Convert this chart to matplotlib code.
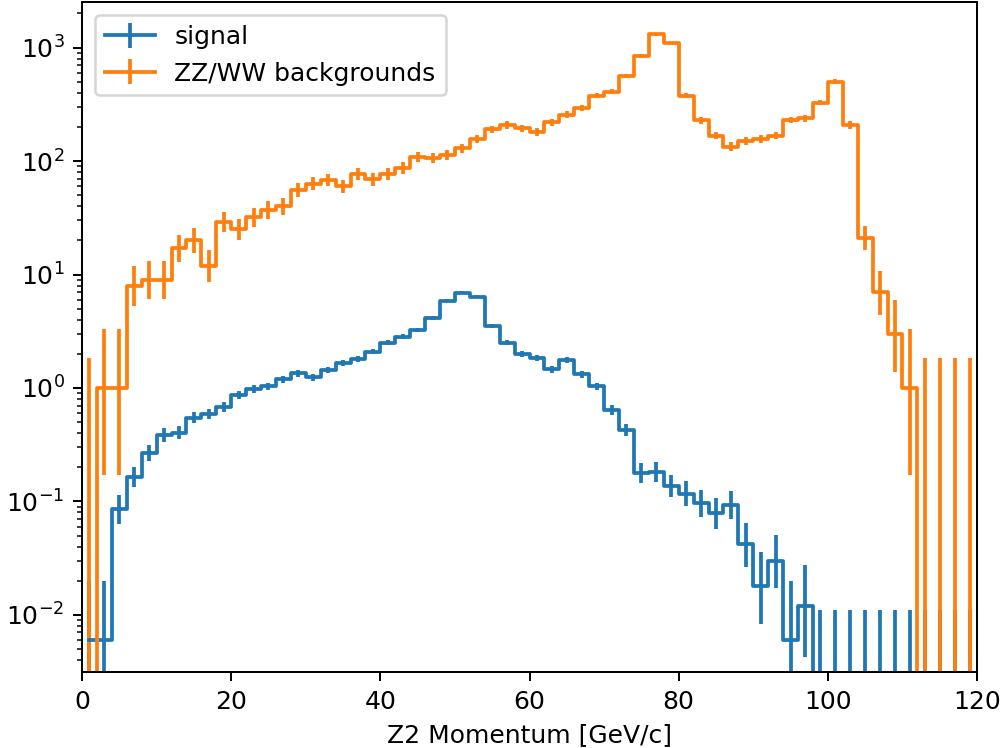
import numpy as np
import matplotlib
matplotlib.use("Agg")
import matplotlib.pyplot as plt

bin_edges = np.arange(0, 121, 2)
weight_signal = 0.006

signal = [0.006, 0.006, 0.085, 0.165, 0.265, 0.385, 0.404, 0.548, 0.59, 0.684,
          0.867, 0.98, 1.03, 1.19, 1.35, 1.24, 1.44, 1.65, 1.79, 2.09,
          2.51, 2.83, 3.25, 4.17, 5.89, 6.93, 6.39, 3.54, 2.51, 2.0,
          1.83, 1.46, 1.77, 1.32, 1.03, 0.64, 0.426, 0.177, 0.181, 0.137,
          0.117, 0.096, 0.0785, 0.093, 0.042, 0.018, 0.030, 0.006, 0.012, 0,
          0, 0, 0, 0, 0, 0, 0, 0, 0, 0]

background = [0, 1, 1, 8, 9, 9, 17, 20, 12, 29,
              25, 32, 37, 40, 56, 63, 68, 60, 77, 69,
              77, 87, 108, 106, 113, 130, 156, 191, 208, 195,
              180, 219, 257, 293, 376, 410, 564, 847, 1315, 1097,
              376, 228, 168, 134, 150, 157, 168, 230, 238, 328,
              502, 208, 21, 7, 3, 1, 0, 0, 0, 0]


def poisson_interval(n):
    n = np.asarray(n, dtype=float)
    safe = np.maximum(n, 1e-9)
    lo = safe * (1 - 1 / (9 * safe) - 1 / (3 * np.sqrt(safe))) ** 3
    lo = np.where(n > 0, np.clip(lo, 0, None), 0.0)
    hi = (n + 1) * (1 - 1 / (9 * (n + 1)) + 1 / (3 * np.sqrt(n + 1))) ** 3
    return lo, hi


def errors(values, w):
    v = np.asarray(values, dtype=float)
    lo, hi = poisson_interval(v / w)
    return np.vstack([v - w * lo, w * hi - v])


centers = 0.5 * (bin_edges[:-1] + bin_edges[1:])

dpi = 180
fig = plt.figure(figsize=(1000 / dpi, 748 / dpi), dpi=dpi)
ax = fig.add_axes([82 / 1000, (748 - 672) / 748, (977 - 82) / 1000, (672 - 2.5) / 748])

ax.errorbar(centers, signal, yerr=errors(signal, weight_signal),
            drawstyle="steps-mid", color="#1f77b4", label="signal")
ax.errorbar(centers, background, yerr=errors(background, 1.0),
            drawstyle="steps-mid", color="#ff7f0e", label="ZZ/WW backgrounds")

ax.set_yscale("log")
ax.set_xlim(0, 120)
ax.set_ylim(10 ** -2.504, 10 ** 3.398)
ax.set_xlabel("Z2 Momentum [GeV/c]")
ax.legend(loc="upper left")

fig.savefig("out.png", dpi=dpi)
